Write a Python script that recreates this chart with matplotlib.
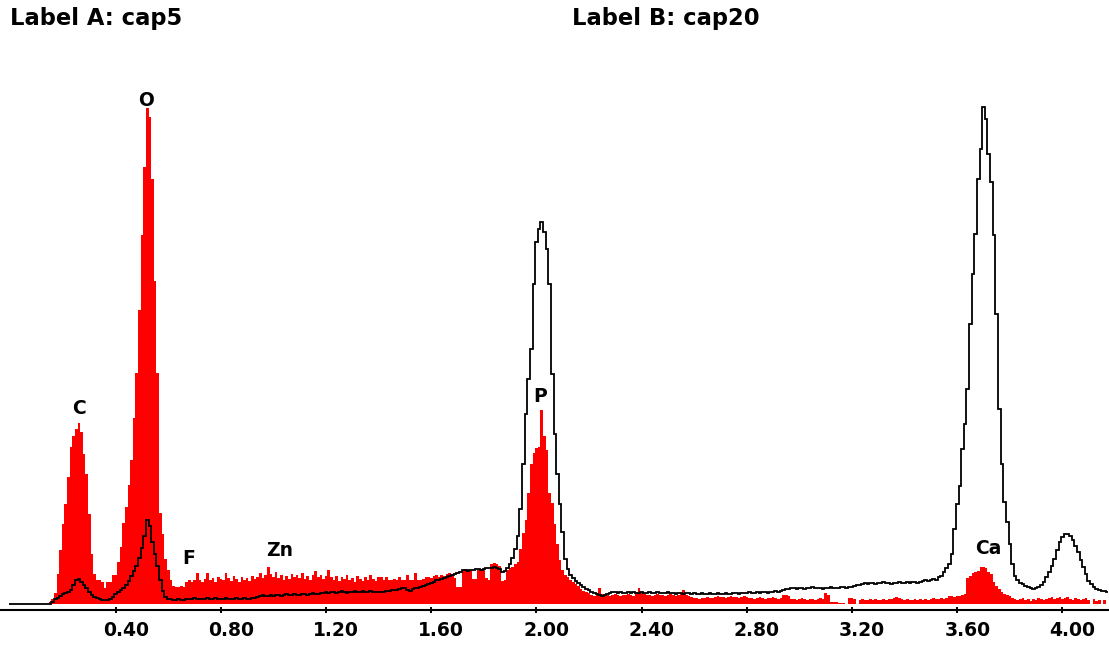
import matplotlib
matplotlib.use("Agg")
import matplotlib.pyplot as plt
import matplotlib.transforms as mtransforms
import numpy as np

# 10 eV channels starting at 0 keV
CHANNEL_KEV = 0.01

# cap5 counts per channel (filled red)
cap5_counts = [
    0, 0, 0, 0, 0, 0, 0, 0, 0, 0,
    0, 0, 0, 0, 0, 2, 5, 11, 30, 54,
    80, 100, 127, 157, 168, 175, 181, 172, 150, 130,
    90, 50, 30, 24, 24, 22, 16, 22, 22, 29,
    29, 42, 57, 81, 97, 119, 144, 186, 231, 294,
    369, 437, 496, 487, 425, 323, 231, 91, 70, 45,
    34, 24, 18, 17, 17, 18, 17, 22, 24, 22,
    24, 31, 24, 22, 25, 31, 24, 26, 22, 27,
    25, 24, 31, 26, 23, 28, 25, 22, 27, 24,
    26, 23, 28, 25, 27, 31, 26, 29, 37, 30,
    27, 32, 26, 29, 24, 28, 25, 30, 27, 29,
    26, 31, 25, 28, 24, 29, 33, 27, 29, 25,
    28, 34, 27, 24, 28, 23, 27, 25, 29, 24,
    26, 22, 28, 25, 23, 27, 24, 29, 25, 23,
    27, 27, 24, 27, 24, 24, 25, 24, 27, 24,
    24, 29, 24, 24, 31, 24, 24, 25, 27, 27,
    26, 28, 29, 27, 29, 28, 30, 31, 30, 26,
    17, 17, 34, 35, 34, 33, 25, 25, 34, 35,
    34, 26, 24, 40, 41, 40, 38, 23, 24, 34,
    36, 37, 40, 42, 55, 71, 84, 111, 140, 151,
    156, 157, 194, 168, 154, 111, 101, 80, 60, 44,
    34, 29, 27, 24, 22, 20, 18, 15, 13, 12,
    11, 9, 8, 9, 16, 10, 8, 9, 8, 9,
    10, 9, 8, 9, 9, 10, 9, 8, 12, 16,
    11, 10, 9, 9, 8, 9, 10, 9, 9, 8,
    9, 10, 9, 8, 9, 11, 14, 9, 8, 7,
    6, 6, 5, 6, 6, 7, 6, 6, 7, 8,
    7, 7, 6, 7, 8, 7, 7, 6, 7, 8,
    7, 6, 6, 5, 6, 7, 6, 5, 6, 6,
    7, 6, 5, 6, 9, 9, 8, 5, 5, 4,
    5, 6, 5, 4, 5, 5, 4, 5, 6, 5,
    11, 9, 2, 2, 2, 1, 1, 1, 0, 6,
    6, 5, 0, 4, 5, 4, 4, 5, 4, 5,
    4, 4, 5, 4, 5, 5, 6, 7, 6, 5,
    4, 5, 4, 4, 5, 4, 5, 4, 5, 4,
    5, 6, 5, 5, 6, 5, 6, 8, 8, 7,
    8, 8, 9, 10, 26, 28, 31, 32, 33, 37,
    37, 36, 32, 30, 22, 18, 15, 12, 10, 9,
    8, 6, 5, 4, 5, 6, 4, 5, 3, 5,
    4, 6, 5, 4, 5, 6, 7, 5, 6, 7,
    5, 6, 7, 5, 4, 6, 5, 4, 5, 6,
    4, 0, 5, 3, 4, 0, 4, 0,
]

# cap20 counts per channel (black outline)
cap20_counts = [
    0, 0, 0, 0, 0, 0, 0, 0, 0, 0,
    0, 0, 0, 0, 0, 0, 2, 5, 6, 8,
    10, 11, 12, 14, 19, 24, 25, 22, 19, 16,
    12, 9, 7, 6, 5, 4, 4, 4, 5, 7,
    10, 12, 14, 16, 19, 23, 28, 33, 38, 46,
    56, 68, 84, 78, 62, 50, 38, 24, 13, 7,
    5, 5, 4, 4, 5, 4, 4, 5, 5, 5,
    6, 5, 5, 5, 5, 6, 5, 5, 6, 5,
    5, 5, 6, 5, 5, 5, 6, 5, 5, 6,
    5, 5, 6, 6, 7, 8, 9, 8, 8, 9,
    8, 9, 9, 8, 9, 10, 9, 9, 10, 9,
    9, 10, 10, 9, 10, 11, 10, 10, 11, 11,
    12, 11, 12, 12, 11, 12, 13, 12, 11, 12,
    12, 13, 12, 12, 13, 12, 12, 13, 12, 12,
    12, 12, 12, 13, 13, 14, 14, 14, 15, 16,
    16, 14, 13, 15, 16, 16, 17, 18, 19, 20,
    21, 22, 24, 24, 25, 26, 27, 28, 29, 30,
    31, 32, 34, 34, 33, 34, 34, 35, 35, 34,
    35, 36, 36, 36, 37, 36, 35, 32, 33, 36,
    40, 46, 55, 68, 95, 140, 190, 225, 255, 320,
    362, 375, 382, 372, 355, 320, 230, 170, 130, 100,
    72, 45, 35, 29, 26, 23, 21, 19, 17, 15,
    14, 12, 11, 10, 9, 8, 9, 10, 11, 12,
    12, 11, 12, 11, 11, 12, 11, 12, 11, 11,
    12, 11, 11, 12, 11, 11, 12, 11, 11, 11,
    12, 11, 11, 10, 11, 11, 10, 11, 11, 10,
    11, 10, 10, 11, 10, 10, 11, 10, 10, 11,
    10, 10, 11, 10, 10, 11, 11, 10, 11, 11,
    11, 12, 11, 11, 12, 11, 12, 12, 11, 12,
    12, 13, 12, 13, 14, 15, 15, 16, 16, 15,
    16, 16, 15, 16, 16, 17, 16, 16, 16, 15,
    16, 16, 17, 16, 16, 16, 17, 17, 16, 17,
    17, 18, 19, 19, 20, 21, 20, 21, 21, 20,
    21, 21, 22, 21, 21, 20, 21, 21, 22, 21,
    21, 22, 21, 22, 22, 21, 22, 23, 24, 23,
    24, 25, 24, 27, 28, 32, 36, 40, 50, 75,
    100, 118, 155, 180, 215, 280, 330, 370, 425, 455,
    497, 485, 450, 422, 369, 290, 195, 140, 102, 82,
    60, 40, 28, 24, 21, 20, 18, 17, 16, 15,
    16, 17, 19, 22, 27, 32, 38, 45, 54, 62,
    67, 70, 70, 68, 64, 58, 52, 44, 37, 30,
    23, 20, 17, 15, 14, 13, 13, 12,
]

tick_kev = [0.40, 0.80, 1.20, 1.60, 2.00, 2.40, 2.80, 3.20, 3.60, 4.00]
tick_labels = ["0.40", "0.80", "1.20", "1.60", "2.00",
               "2.40", "2.80", "3.20", "3.60", "4.00"]

# element markers: (symbol, keV, counts where the label sits)
peak_labels = [
    ("C", 0.262, 196),
    ("O", 0.517, 504),
    ("F", 0.679, 45),
    ("Zn", 1.025, 53),
    ("P", 2.013, 208),
    ("Ca", 3.717, 56),
]


def plot_spectrum(save_path="out.png"):
    fig = plt.figure(figsize=(11.09, 6.45), dpi=100)
    ax = fig.add_axes([0.0, 35 / 645, 1.0, 610 / 645])

    n = len(cap5_counts)
    edges = (np.arange(n + 1) - 0.5) * CHANNEL_KEV

    ax.stairs(cap5_counts, edges, fill=True, color="#ff0000", baseline=0)
    ax.stairs(cap20_counts, edges, color="black", linewidth=1.3, baseline=None)

    ax.set_xlim(-0.0399, 4.177)
    ax.set_ylim(-6, 604)

    for side in ("top", "left", "right"):
        ax.spines[side].set_visible(False)
    ax.spines["bottom"].set_linewidth(1.5)
    ax.set_yticks([])

    ax.set_xticks(tick_kev)
    ax.set_xticklabels(tick_labels, fontfamily="DejaVu Sans",
                       fontweight="bold", fontsize=13.5)
    ax.tick_params(axis="x", direction="inout", length=5, width=1.4, pad=5.5)
    shift = mtransforms.ScaledTranslation(0.10, 0, fig.dpi_scale_trans)
    for lbl in ax.get_xticklabels():
        lbl.set_transform(lbl.get_transform() + shift)

    for sym, kev, y in peak_labels:
        ax.text(kev, y, sym, ha="center", va="center",
                fontfamily="DejaVu Sans", fontweight="bold", fontsize=13.5)

    fig.text(10 / 1109, 1 - 18.5 / 645, "Label A: cap5", ha="left", va="center",
             fontfamily="DejaVu Sans", fontweight="bold", fontsize=16.3)
    fig.text(572 / 1109, 1 - 18.5 / 645, "Label B: cap20", ha="left", va="center",
             fontfamily="DejaVu Sans", fontweight="bold", fontsize=16.3)

    fig.savefig(save_path, dpi=100)


plot_spectrum()
